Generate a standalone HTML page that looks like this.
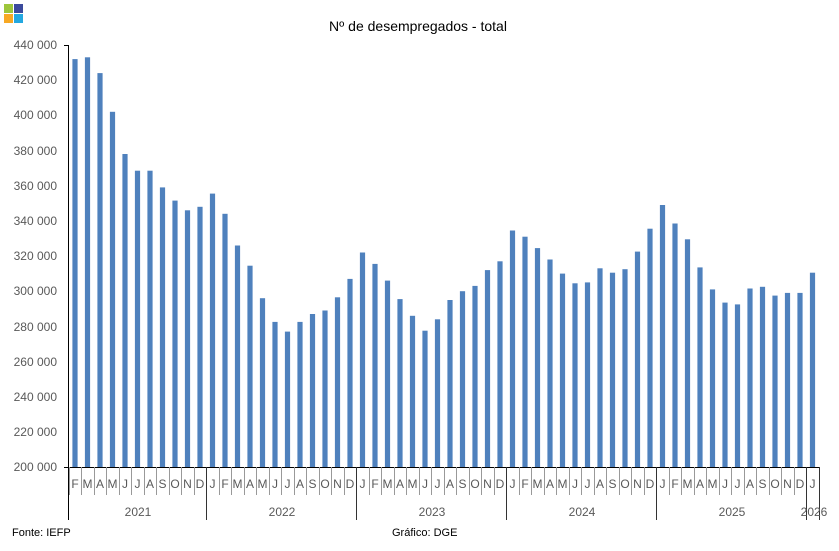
<!DOCTYPE html>
<html><head><meta charset="utf-8"><style>
body{margin:0;background:#fff;width:839px;height:551px;overflow:hidden}
svg{display:block;font-family:"Liberation Sans",Arial,sans-serif}
.y{font-size:12px;fill:#595959;text-anchor:end}
.m{font-size:12px;fill:#595959;text-anchor:middle}
.yr{font-size:12px;fill:#595959;text-anchor:middle}
</style></head><body>
<svg width="839" height="551" viewBox="0 0 839 551">
<rect x="4" y="4" width="9" height="9" fill="#9dc63b"/><rect x="14" y="4" width="9" height="9" fill="#3b4a9c"/>
<rect x="4" y="14" width="9" height="9" fill="#f7a823"/><rect x="14" y="14" width="9" height="9" fill="#23a8e0"/>
<text x="418" y="31" text-anchor="middle" font-size="14" fill="#000">Nº de desempregados - total</text>
<g class="y">
<text x="57" y="49">440 000</text><text x="57" y="84">420 000</text><text x="57" y="119">400 000</text>
<text x="57" y="155">380 000</text><text x="57" y="190">360 000</text><text x="57" y="225">340 000</text>
<text x="57" y="260">320 000</text><text x="57" y="295">300 000</text><text x="57" y="331">280 000</text>
<text x="57" y="366">260 000</text><text x="57" y="401">240 000</text><text x="57" y="436">220 000</text>
<text x="57" y="471">200 000</text>
</g>
<g stroke="#000" stroke-width="1">
<line x1="68.5" y1="45" x2="68.5" y2="520"/>
<line x1="64" y1="45.5" x2="68.5" y2="45.5"/>
<line x1="64" y1="467.5" x2="820" y2="467.5"/>
</g>
<g id="bars" fill="#4f81bd"></g>
<g id="ticks" stroke="#999" stroke-width="1"></g>
<g stroke="#333" stroke-width="1">
<line x1="206.5" y1="467" x2="206.5" y2="520"/><line x1="356.5" y1="467" x2="356.5" y2="520"/>
<line x1="506.5" y1="467" x2="506.5" y2="520"/><line x1="656.5" y1="467" x2="656.5" y2="520"/>
<line x1="806.5" y1="467" x2="806.5" y2="520"/><line x1="819.5" y1="467" x2="819.5" y2="520"/>
</g>
<g class="m">
<text x="75" y="488">F</text><text x="87.5" y="488">M</text><text x="100" y="488">A</text><text x="112.5" y="488">M</text><text x="125" y="488">J</text><text x="137.5" y="488">J</text><text x="150" y="488">A</text><text x="162.5" y="488">S</text><text x="175" y="488">O</text><text x="187.5" y="488">N</text><text x="200" y="488">D</text>
<text x="212.5" y="488">J</text><text x="225" y="488">F</text><text x="237.5" y="488">M</text><text x="250" y="488">A</text><text x="262.5" y="488">M</text><text x="275" y="488">J</text><text x="287.5" y="488">J</text><text x="300" y="488">A</text><text x="312.5" y="488">S</text><text x="325" y="488">O</text><text x="337.5" y="488">N</text><text x="350" y="488">D</text>
<text x="362.5" y="488">J</text><text x="375" y="488">F</text><text x="387.5" y="488">M</text><text x="400" y="488">A</text><text x="412.5" y="488">M</text><text x="425" y="488">J</text><text x="437.5" y="488">J</text><text x="450" y="488">A</text><text x="462.5" y="488">S</text><text x="475" y="488">O</text><text x="487.5" y="488">N</text><text x="500" y="488">D</text>
<text x="512.5" y="488">J</text><text x="525" y="488">F</text><text x="537.5" y="488">M</text><text x="550" y="488">A</text><text x="562.5" y="488">M</text><text x="575" y="488">J</text><text x="587.5" y="488">J</text><text x="600" y="488">A</text><text x="612.5" y="488">S</text><text x="625" y="488">O</text><text x="637.5" y="488">N</text><text x="650" y="488">D</text>
<text x="662.5" y="488">J</text><text x="675" y="488">F</text><text x="687.5" y="488">M</text><text x="700" y="488">A</text><text x="712.5" y="488">M</text><text x="725" y="488">J</text><text x="737.5" y="488">J</text><text x="750" y="488">A</text><text x="762.5" y="488">S</text><text x="775" y="488">O</text><text x="787.5" y="488">N</text><text x="800" y="488">D</text>
<text x="812.5" y="488">J</text>
</g>
<g class="yr">
<text x="138" y="516">2021</text><text x="282" y="516">2022</text><text x="432" y="516">2023</text>
<text x="582" y="516">2024</text><text x="732" y="516">2025</text><text x="814" y="516">2026</text>
</g>
<text x="12" y="536" font-size="11" fill="#000">Fonte: IEFP</text>
<text x="392" y="536" font-size="11" fill="#000">Gráfico: DGE</text>
</svg>
<script>
var ys=[59.1,57.3,73.1,111.8,154.0,170.7,170.7,187.4,200.6,210.3,206.8,
193.6,213.8,245.5,265.7,298.2,321.9,331.6,321.9,314.0,310.5,297.3,278.9,
252.5,263.9,280.6,299.1,315.8,330.7,319.3,300.0,291.2,285.9,270.1,261.3,
230.5,236.7,248.1,259.5,273.6,283.3,282.4,268.3,272.7,269.2,251.6,228.7,
205.0,223.5,239.3,267.4,289.4,302.6,304.4,288.5,286.8,295.6,292.9,292.9,
272.7];
var ns="http://www.w3.org/2000/svg",g=document.getElementById("bars"),t=document.getElementById("ticks");
ys.forEach(function(y,i){var r=document.createElementNS(ns,"rect");var cx=75+12.5*i;
r.setAttribute("x",cx-2.6);r.setAttribute("y",y);r.setAttribute("width",5.2);r.setAttribute("height",467-y);g.appendChild(r);
var l=document.createElementNS(ns,"line");var x=Math.round(68.75+12.5*i)+0.5;
l.setAttribute("x1",x);l.setAttribute("x2",x);l.setAttribute("y1",467);l.setAttribute("y2",495);t.appendChild(l);});
</script>
</body></html>
